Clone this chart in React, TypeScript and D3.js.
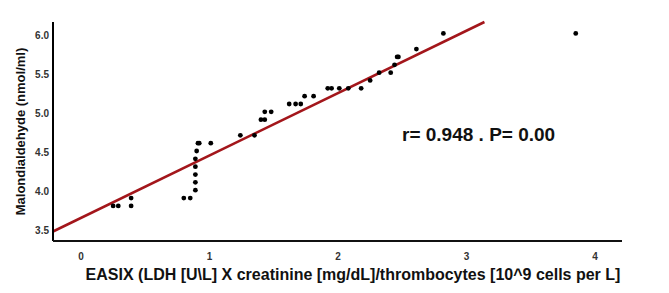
import React from "react";
import * as d3 from "d3";

const easix = [0.25, 0.29, 0.39, 0.39, 0.8, 0.85, 0.89, 0.89, 0.89, 0.89, 0.89, 0.9, 0.91, 0.92, 1.01, 1.24, 1.35, 1.4, 1.43, 1.43, 1.48, 1.62, 1.67, 1.71, 1.74, 1.81, 1.92, 1.95, 2.01, 2.08, 2.18, 2.25, 2.32, 2.41, 2.44, 2.46, 2.47, 2.61, 2.82, 3.85];
const mda = [3.82, 3.82, 3.82, 3.92, 3.92, 3.92, 4.02, 4.12, 4.22, 4.32, 4.42, 4.52, 4.62, 4.62, 4.62, 4.72, 4.72, 4.92, 4.92, 5.02, 5.02, 5.12, 5.12, 5.12, 5.22, 5.22, 5.32, 5.32, 5.32, 5.32, 5.32, 5.42, 5.52, 5.52, 5.62, 5.72, 5.72, 5.82, 6.02, 6.02];
const xTicks = [0, 1, 2, 3, 4];
const yTicks = [3.5, 4.0, 4.5, 5.0, 5.5, 6.0];
const fitIntercept = 3.667;
const fitSlope = 0.796;
const xDomain = [-0.218, 4.21];
const yDomain = [3.372, 6.166];

export default function App() {
  const W = 669, H = 293;
  const left = 53, right = 622, top = 22, bottom = 241;
  const x = d3.scaleLinear().domain(xDomain).range([left, right]);
  const y = d3.scaleLinear().domain(yDomain).range([bottom, top]);
  const x0 = xDomain[0];
  const x1 = Math.min(xDomain[1], (yDomain[1] - fitIntercept) / fitSlope);
  const fitLine = d3.line<number>().x((d) => x(d)).y((d) => y(fitIntercept + fitSlope * d))([x0, x1]);
  const font = "'Liberation Sans', Arial, sans-serif";
  return (
    <svg width={W} height={H} style={{ position: "absolute", left: 0, top: 0, background: "#fff" }} fontFamily={font}>
      <rect width={W} height={H} fill="#fff" />
      <path d={fitLine || ""} stroke="#a3161b" strokeWidth={2.6} fill="none" />
      {easix.map((v, i) => (
        <circle key={i} cx={x(v)} cy={y(mda[i])} r={2.4} fill="#000" />
      ))}
      <line x1={left} x2={left} y1={top} y2={bottom} stroke="#000" strokeWidth={2} />
      <line x1={left} x2={right} y1={bottom} y2={bottom} stroke="#111" strokeWidth={2} />
      {yTicks.map((t) => (
        <text key={t} x={49} y={y(t)} dy="0.35em" textAnchor="end" fontSize={10} fontWeight="bold" fill="#333">
          {t.toFixed(1)}
        </text>
      ))}
      {xTicks.map((t) => (
        <text key={t} x={x(t)} y={256} dy="0.35em" textAnchor="middle" fontSize={10} fontWeight="bold" fill="#333">
          {t}
        </text>
      ))}
      <text x={353} y={280} textAnchor="middle" fontSize={16} fontWeight="bold" fill="#111">
        EASIX (LDH [U\L] X creatinine [mg/dL]/thrombocytes [10^9 cells per L]
      </text>
      <text transform={`translate(25,${131.5}) rotate(-90)`} textAnchor="middle" fontSize={13} fontWeight="bold" fill="#111">
        Malondialdehyde (nmol/ml)
      </text>
      <text x={402} y={141} fontSize={19} fontWeight="bold" fill="#111">
        r= 0.948 . P= 0.00
      </text>
    </svg>
  );
}
